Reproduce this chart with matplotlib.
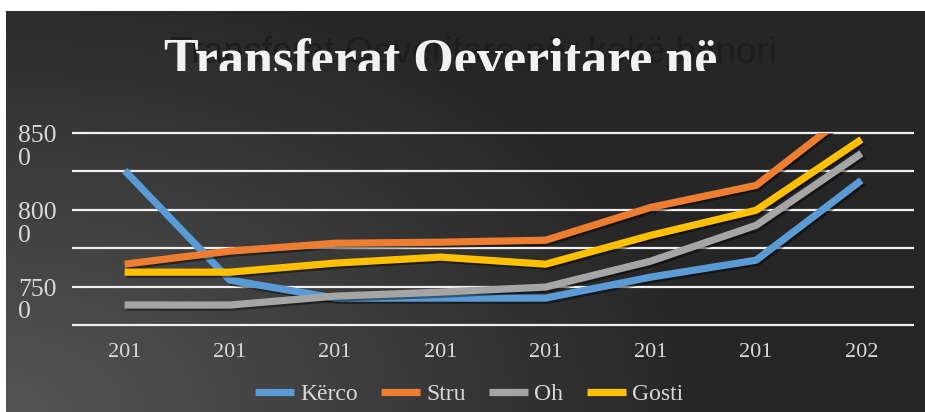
import numpy as np
import matplotlib
matplotlib.use("Agg")
import matplotlib.pyplot as plt
from matplotlib import patheffects as pe
from matplotlib.lines import Line2D
from matplotlib.transforms import Bbox, TransformedBbox, ScaledTranslation

# categories and series
years = [2013, 2014, 2015, 2016, 2017, 2018, 2019, 2020]
year_labels = [str(y)[:3] for y in years]
names = ["Kërco", "Stru", "Oh", "Gosti"]
kerco = [8256, 7542, 7425, 7425, 7425, 7562, 7672, 8192]
stru = [7646, 7731, 7782, 7789, 7802, 8016, 8159, 8690]
oh = [7380, 7380, 7438, 7464, 7497, 7666, 7899, 8367]
gosti = [7594, 7594, 7653, 7692, 7646, 7834, 7997, 8458]
colors = ["#5B9BD5", "#ED7D31", "#A5A5A5", "#FFC000"]

y_ticks = [7250, 7500, 7750, 8000, 8250, 8500]
y_tick_labels = ["", "750\n0", "", "800\n0", "", "850\n0"]

plt.rcParams['font.family'] = ['Liberation Serif', 'DejaVu Serif']

W, H = 925, 412
fig = plt.figure(figsize=(W / 100, H / 100), dpi=100, facecolor="white")

# dark background with a soft glow from the lower left corner
bg = fig.add_axes([6 / W, 0, (W - 6) / W, (H - 11) / H])
gx, gy = np.meshgrid(np.arange(W - 6), np.arange(H - 11))
r = np.sqrt((gx / 700.0) ** 2 + (gy / 450.0) ** 2)
shade = (38 + 47 * np.clip(1 - r, 0, 1)) / 255.0
bg.imshow(np.dstack([shade, shade, shade]), origin="lower", aspect="auto",
          extent=[0, 1, 0, 1], interpolation="bilinear")
bg.set_axis_off()

ax = fig.add_axes([72 / W, 87 / H, 842 / W, 192 / H])
ax.patch.set_alpha(0)
for s in ax.spines.values():
    s.set_visible(False)
ax.set_xlim(-0.5, len(years) - 0.5)
ax.set_ylim(7250, 8500)
ax.hlines(y_ticks, -0.5, len(years) - 0.5, color="#f0f0f0", lw=1.6,
          clip_on=False, zorder=1)

x = np.arange(len(years))
shadow = [pe.SimpleLineShadow(offset=(1.5, -1.5), shadow_color="black", alpha=0.45),
          pe.Normal()]
for vals, c in zip([kerco, stru, oh, gosti], colors):
    ax.plot(x, vals, color=c, lw=5.2, solid_capstyle="butt",
            solid_joinstyle="round", path_effects=shadow, zorder=3)

ax.set_xticks(x, year_labels)
ax.set_yticks(y_ticks, y_tick_labels)
ax.tick_params(axis="x", length=0, pad=13, labelsize=16, labelcolor="#d9d9d9")
ax.tick_params(axis="y", length=0, pad=39, labelsize=18.5, labelcolor="#d9d9d9")
up = ScaledTranslation(0, 8 / 100, fig.dpi_scale_trans)
for lab in ax.get_yticklabels():
    lab.set_horizontalalignment("left")
    lab.set_verticalalignment("top")
    lab.set_linespacing(1.05)
    lab.set_transform(lab.get_transform() + up)

handles = [Line2D([], [], color=c, lw=5.2, solid_capstyle="butt") for c in colors]
fig.legend(handles, names, loc="center", bbox_to_anchor=(469 / W, 18 / H),
           ncol=4, frameon=False, fontsize=17, handlelength=1.65,
           handletextpad=0.25, columnspacing=1.0, labelcolor="#d9d9d9")

# faint title underneath and the bold one on top, cut off at the bottom
fig.text(170 / W, (H - 63) / H, "Transferat Qeveritare për kokë banori",
         family="Liberation Sans", fontsize=26.3, color="#1d1d1d",
         ha="left", va="baseline")
title = fig.text(441 / W, (H - 74) / H, "Transferat Qeveritare në",
                 fontsize=37.5, weight="bold", color="#f2f2f2",
                 ha="center", va="baseline")
title.set_clip_box(TransformedBbox(Bbox([[0, (H - 71) / H], [1, 1]]), fig.transFigure))
title.set_clip_on(True)

fig.savefig("out.png", dpi=100, facecolor="white")
